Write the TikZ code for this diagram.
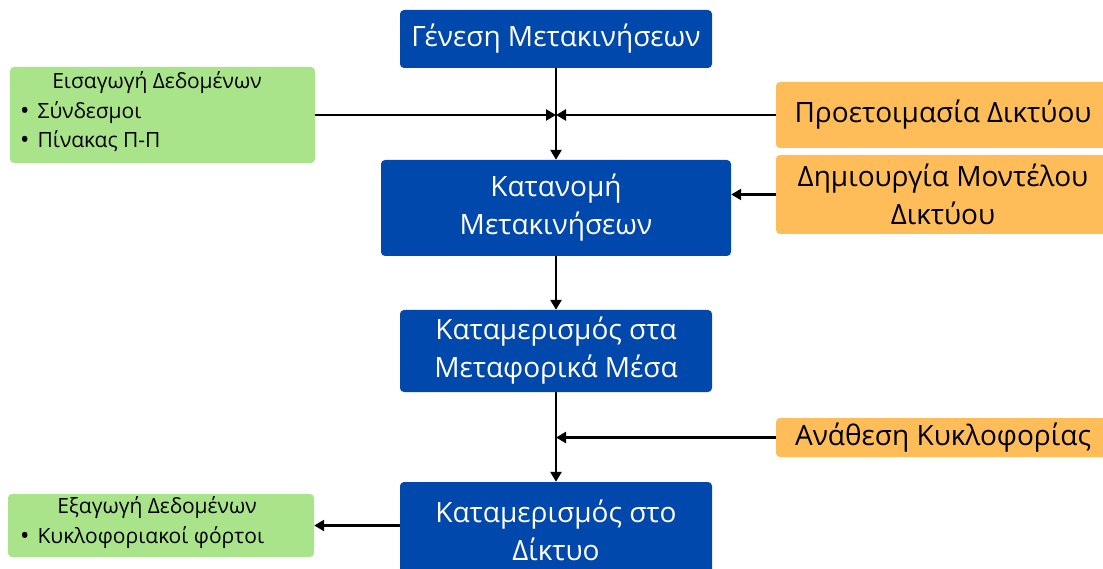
\documentclass[tikz,border=0pt]{standalone}
\usepackage{fontspec}
\setmainfont{Open Sans}
\usetikzlibrary{arrows.meta}
\definecolor{bblue}{RGB}{0,72,171}
\definecolor{lgreen}{RGB}{169,228,138}
\definecolor{lorange}{RGB}{255,189,89}
\tikzset{
  mainbox/.style={fill=bblue, rounded corners=4pt, text=white, align=center,
    font=\fontsize{28}{38}\selectfont, inner sep=0pt},
  sidebox/.style={fill=lorange, rounded corners=4pt, text=black, align=center,
    font=\fontsize{28}{38}\selectfont, inner sep=0pt},
  databox/.style={fill=lgreen, rounded corners=4pt, inner sep=0pt},
  datatext/.style={font=\fontsize{21}{24}\selectfont, inner sep=0pt},
  conn/.style={line width=2.4pt, -{Triangle[width=11pt,length=10pt]}},
}
\newcommand{\bul}{\raisebox{-1pt}{\fontsize{25}{24}\selectfont •}\hspace{8pt}}
\begin{document}
\begin{tikzpicture}[x=1pt,y=-1pt]
\useasboundingbox (0,0) rectangle (1103,569);
% main boxes
\node[mainbox, minimum width=312pt, minimum height=58pt] (gen) at (556,39) {Γένεση Μετακινήσεων};
\node[mainbox, minimum width=350pt, minimum height=96pt] (dist) at (556,208) {Κατανομή\\Μετακινήσεων};
\node[mainbox, minimum width=312pt, minimum height=82pt] (mode) at (556,351) {Καταμερισμός στα\\Μεταφορικά Μέσα};
\node[mainbox, minimum width=312pt, minimum height=96pt] (net) at (556,530) {Καταμερισμός στο\\Δίκτυο};
% side boxes
\node[sidebox, minimum width=334pt, minimum height=66pt] (prep) at (943,115) {Προετοιμασία Δικτύου};
\node[sidebox, minimum width=334pt, minimum height=79pt] (model) at (943,194.5) {Δημιουργία Μοντέλου\\Δικτύου};
\node[sidebox, minimum width=334pt, minimum height=39pt] (assign) at (943,437.5) {Ανάθεση Κυκλοφορίας};
% data boxes
\node[databox, minimum width=305pt, minimum height=96pt] (inp) at (162.5,115) {};
\node[datatext] (inpt) at (157,83) {Εισαγωγή Δεδομένων};
\node[datatext, anchor=west] (inp1) at (20,113) {\bul Σύνδεσμοι};
\node[datatext, anchor=west] (inp2) at (20,141) {\bul Πίνακας Π-Π};
\node[databox, minimum width=306pt, minimum height=63pt] (out) at (161,525.5) {};
\node[datatext] (outt) at (157,508) {Εξαγωγή Δεδομένων};
\node[datatext, anchor=west] (out1) at (20,538) {\bul Κυκλοφοριακοί φόρτοι};
% junctions
\coordinate (j1) at (gen.south |- inp.east);
\coordinate (j2) at (gen.south |- assign.west);
% connectors
\draw[conn] (gen.south) -- (dist.north);
\draw[conn] (inp.east) -- (j1);
\draw[conn] (prep.west) -- (j1);
\draw[conn] (model.west) -- (dist.east |- model.west);
\draw[conn] (dist.south) -- (mode.north);
\draw[conn] (mode.south) -- (net.north);
\draw[conn] (assign.west) -- (j2);
\draw[conn] (net.west |- out.east) -- (out.east);
\end{tikzpicture}
\end{document}
